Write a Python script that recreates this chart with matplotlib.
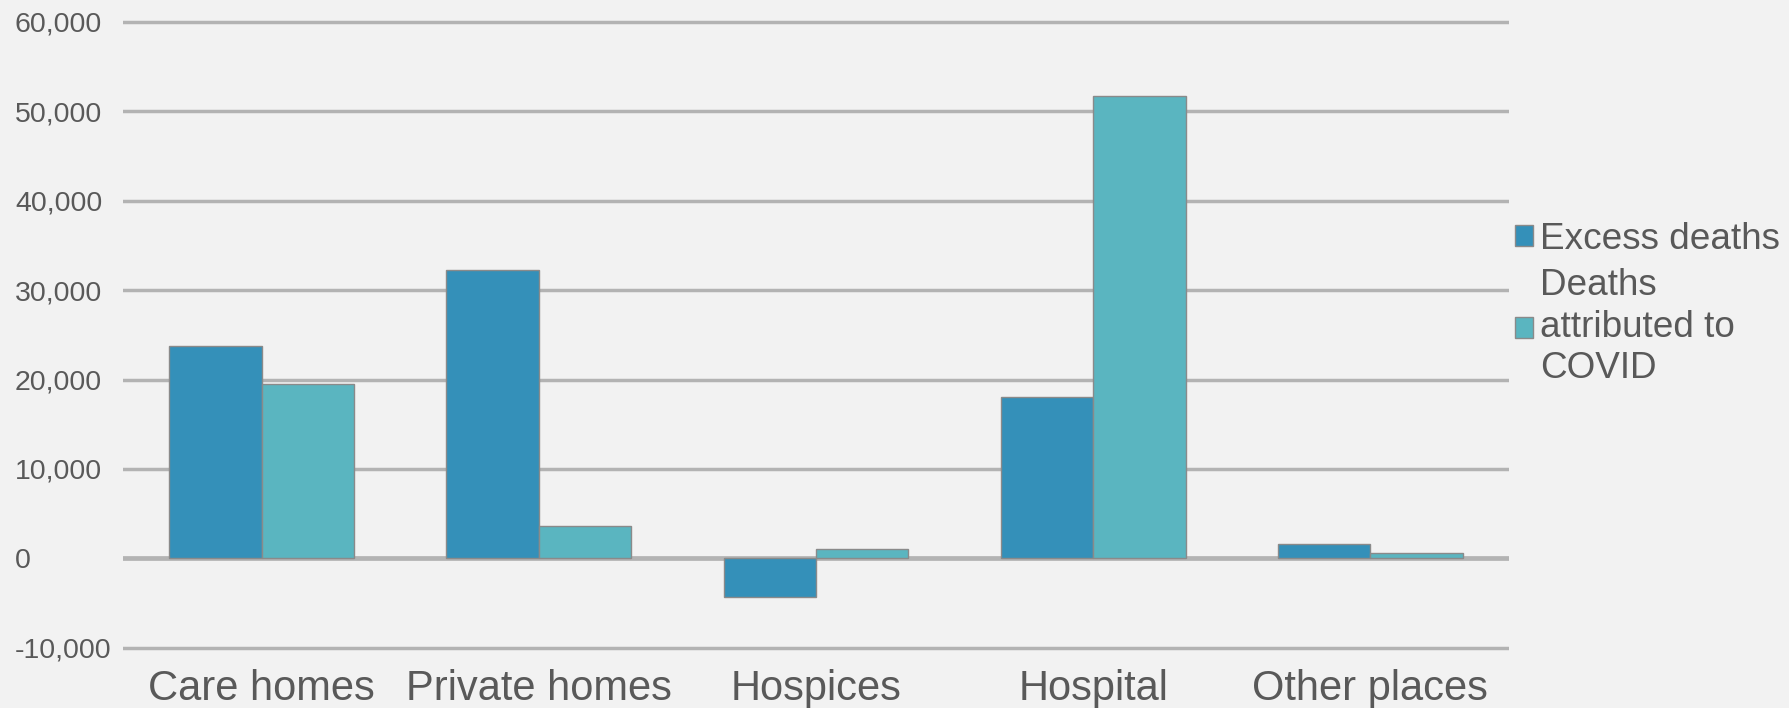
"""
Excess deaths vs deaths attributed to COVID, by place of death (grouped bars).
"""

import matplotlib.pyplot as plt
import numpy as np
from matplotlib.ticker import FuncFormatter

plt.rcParams["font.family"] = ["Liberation Sans", "DejaVu Sans"]

# data
places = ["Care homes", "Private homes", "Hospices", "Hospital", "Other places"]
excess_deaths = [23800, 32300, -4300, 18100, 1600]
covid_deaths = [19500, 3600, 1000, 51700, 600]
series_labels = ["Excess deaths", "Deaths\nattributed to\nCOVID"]
y_ticks = [-10000, 0, 10000, 20000, 30000, 40000, 50000, 60000]

# colours
BG = "#f2f2f2"
C_EXCESS = "#3490b9"
C_COVID = "#5ab5c0"
GRID = "#b3b3b3"
TEXT = "#595959"

W, H = 1790, 708
fig = plt.figure(figsize=(W / 100, H / 100), dpi=100, facecolor=BG)
ax = fig.add_axes([123 / W, 0.0788, (1509 - 123) / W, 0.8965])
ax.set_facecolor(BG)

x = np.arange(len(places))
bw = 0.333

for yv in y_ticks:
    if yv == 0:
        continue
    ax.axhline(yv, color=GRID, lw=2.5, zorder=1)
ax.axhline(0, color=GRID, lw=3.4, zorder=1)

ax.bar(x - bw / 2, excess_deaths, bw, color=C_EXCESS, edgecolor="#8a8a8a",
       linewidth=1.0, label=series_labels[0], zorder=3)
ax.bar(x + bw / 2, covid_deaths, bw, color=C_COVID, edgecolor="#8a8a8a",
       linewidth=1.0, label=series_labels[1], zorder=3)

ax.set_xlim(-0.5, len(places) - 0.5)
ax.set_ylim(-10500, 60500)

ax.set_yticks(y_ticks)
ax.yaxis.set_major_formatter(FuncFormatter(lambda v, _: f"{int(v):,}"))
ax.tick_params(axis="y", length=0, pad=77.8, labelsize=20.5, labelcolor=TEXT)
for lab in ax.get_yticklabels():
    lab.set_horizontalalignment("left")

ax.set_xticks(x)
ax.set_xticklabels(places)
ax.tick_params(axis="x", length=0, pad=12, labelsize=30, labelcolor=TEXT)

for s in ax.spines.values():
    s.set_visible(False)

leg = fig.legend(loc="upper left", bbox_to_anchor=(1515 / W, 1 - 222 / H),
                 frameon=False, fontsize=26.6, labelcolor=TEXT,
                 handlelength=0.49, handleheight=0.49, handletextpad=0.2,
                 labelspacing=0.3, borderpad=0, borderaxespad=0)
for t in leg.get_texts():
    t.set_linespacing(1.24)

fig.savefig("out.png", dpi=100, facecolor=BG)
